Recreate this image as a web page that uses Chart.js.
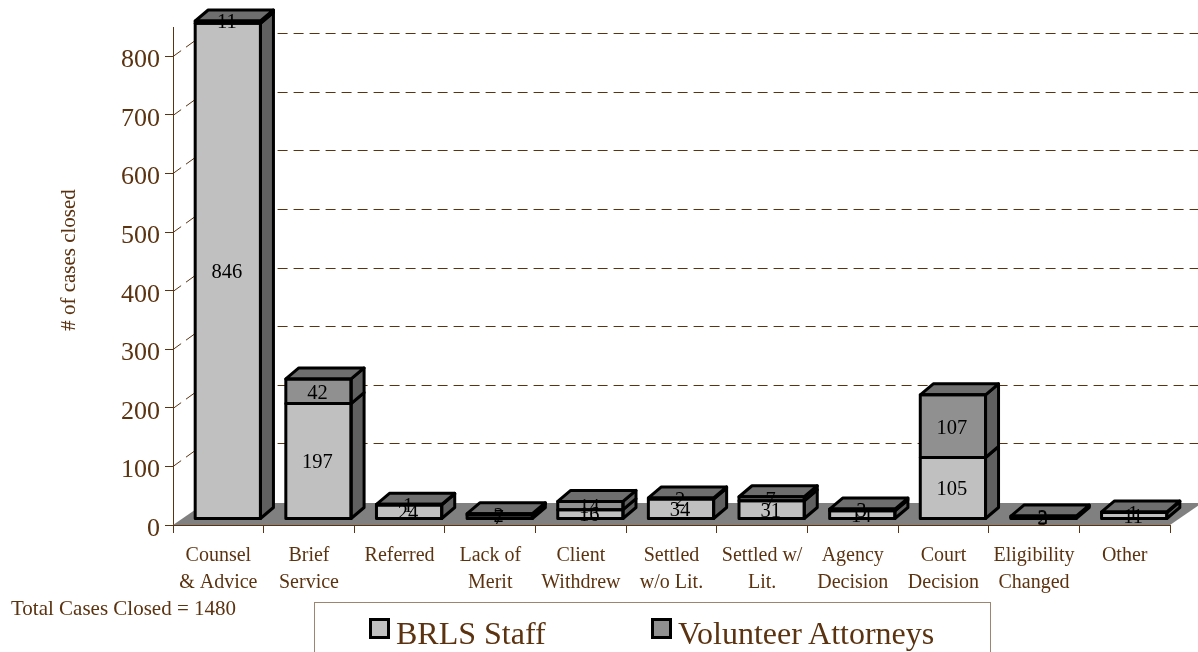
<!DOCTYPE html>
<html>
<head>
<meta charset="utf-8">
<title>Cases closed</title>
<script src="https://cdn.jsdelivr.net/npm/chart.js@4/dist/chart.umd.min.js"></script>
<style>
    html, body { margin: 0; padding: 0; background: #fff; overflow: hidden; }
    #wrap { position: relative; width: 1198px; height: 652px; font-family: "Liberation Serif", serif; color: #5c3310; }
    #total { position: absolute; left: 11px; top: 597px; font-size: 21px; line-height: 22px; white-space: nowrap; }
    #legend { position: absolute; left: 314px; top: 602px; width: 675px; height: 60px; border: 1px solid #9b8670; box-sizing: content-box; }
    .item { position: absolute; top: 11px; font-size: 32px; line-height: 38px; white-space: nowrap; }
    .swatch { display: inline-block; position: absolute; left: -27px; top: 4px; width: 15px; height: 15px; border: 3px solid #000; }
</style>
</head>
<body>
<div id="wrap">
    <canvas id="chart" width="1198" height="652"></canvas>
    <div id="total">Total Cases Closed = 1480</div>
    <div id="legend"></div>
</div>
<script>
const categories = [
    ["Counsel", "& Advice"], ["Brief", "Service"], "Referred", ["Lack of", "Merit"],
    ["Client", "Withdrew"], ["Settled", "w/o Lit."], ["Settled w/", "Lit."],
    ["Agency", "Decision"], ["Court", "Decision"], ["Eligibility", "Changed"], "Other"
];
const staff = [846, 197, 24, 7, 16, 34, 31, 14, 105, 3, 11];
const volunteers = [11, 42, 1, 2, 14, 2, 7, 3, 107, 2, 1];
const yTitle = "# of cases closed";
const brown = "#5c3310";

// bars stand a little in front of the back wall
const wallX = 32, wallY = 23, floorY = 22;
const barX = 9.5, barY = 6;
const depthX = 13, depthY = 11;

function sideAndTop(ctx, bar, top, withTop) {
    const half = bar.width / 2;
    const r = bar.x + half, l = bar.x - half;
    ctx.fillStyle = "#606060";
    ctx.beginPath();
    ctx.moveTo(r, top);
    ctx.lineTo(r + depthX, top - depthY);
    ctx.lineTo(r + depthX, bar.base - depthY);
    ctx.lineTo(r, bar.base);
    ctx.closePath();
    ctx.fill();
    ctx.stroke();
    if (withTop) {
        ctx.fillStyle = "#6e6e6e";
        ctx.beginPath();
        ctx.moveTo(l, top);
        ctx.lineTo(l + depthX, top - depthY);
        ctx.lineTo(r + depthX, top - depthY);
        ctx.lineTo(r, top);
        ctx.closePath();
        ctx.fill();
        ctx.stroke();
    }
    ctx.strokeRect(l, top, bar.width, bar.base - top);
}

const scenery = {
    id: "scenery",
    beforeDatasetsDraw(chart) {
        const { ctx, scales: { x, y } } = chart;
        const floor = y.getPixelForValue(0);
        ctx.save();
        ctx.fillStyle = "#808080";
        ctx.beginPath();
        ctx.moveTo(x.left, floor);
        ctx.lineTo(x.right, floor);
        ctx.lineTo(x.right + wallX, floor - floorY);
        ctx.lineTo(x.left + wallX, floor - floorY);
        ctx.closePath();
        ctx.fill();

        ctx.strokeStyle = brown;
        ctx.lineWidth = 1;
        ctx.setLineDash([10, 6]);
        y.ticks.forEach(t => {
            if (t.value === 0) return;
            const py = Math.round(y.getPixelForValue(t.value)) + 0.5;
            ctx.beginPath();
            ctx.moveTo(x.left, py);
            ctx.lineTo(x.left + wallX, py - wallY);
            ctx.lineTo(chart.width, py - wallY);
            ctx.stroke();
        });
        ctx.restore();

        ctx.save();
        ctx.translate(barX, -barY);
    },
    afterDatasetsDraw(chart) {
        const { ctx, chartArea } = chart;
        // still translated from beforeDatasetsDraw
        ctx.lineWidth = 3;
        ctx.lineJoin = "round";
        ctx.strokeStyle = "#000";
        const lower = chart.getDatasetMeta(0).data;
        const upper = chart.getDatasetMeta(1).data;
        lower.forEach((bar, i) => {
            sideAndTop(ctx, bar, Math.max(bar.y, chartArea.top), false);
            sideAndTop(ctx, upper[i], Math.max(upper[i].y, chartArea.top), true);
        });

        ctx.fillStyle = "#000";
        ctx.font = '20.5px "Liberation Serif"';
        ctx.textAlign = "center";
        ctx.textBaseline = "middle";
        [[lower, staff], [upper, volunteers]].forEach(([bars, vals]) => {
            bars.forEach((bar, i) => {
                ctx.fillText(vals[i], bar.x - 1, (bar.y + bar.base) / 2 + 2);
            });
        });
        ctx.restore();
    },
    afterDraw(chart) {
        const { ctx } = chart;
        ctx.save();
        ctx.translate(69, 260);
        ctx.rotate(-Math.PI / 2);
        ctx.fillStyle = brown;
        ctx.font = '21px "Liberation Serif"';
        ctx.textAlign = "center";
        ctx.textBaseline = "middle";
        ctx.fillText(yTitle, 0, 0);
        ctx.restore();
    }
};

const chart = new Chart(document.getElementById("chart"), {
    type: "bar",
    data: {
        labels: categories,
        datasets: [
            { label: "BRLS Staff", data: staff, backgroundColor: "#c0c0c0", borderWidth: 0 },
            { label: "Volunteer Attorneys", data: volunteers, backgroundColor: "#909090", borderWidth: 0 }
        ]
    },
    options: {
        responsive: false,
        animation: false,
        layout: { padding: { top: 27, right: 28 } },
        categoryPercentage: 0.72,
        barPercentage: 1,
        plugins: { legend: { display: false }, tooltip: { enabled: false } },
        scales: {
            x: {
                stacked: true,
                afterFit(scale) { scale.height = 127; },
                grid: { drawOnChartArea: false, color: brown, tickLength: 8 },
                border: { color: brown },
                ticks: {
                    maxRotation: 0, autoSkip: false, padding: 9, color: brown,
                    font: { family: "Liberation Serif", size: 20, lineHeight: 1.35 }
                }
            },
            y: {
                stacked: true,
                min: 0,
                max: 850,
                afterFit(scale) { scale.width = 173; },
                grid: { drawOnChartArea: false, color: brown, tickLength: 8 },
                border: { color: brown },
                ticks: {
                    stepSize: 100, includeBounds: false, padding: 5, color: brown,
                    // empty first line pushes the number down onto its tick
                    callback: v => ["", String(v)],
                    font: { family: "Liberation Serif", size: 26, lineHeight: 0.31 }
                }
            }
        }
    },
    plugins: [scenery]
});

// legend built from the datasets, positions set by hand to sit in the frame
const legendLeft = [81, 363];
chart.data.datasets.forEach((ds, i) => {
    const item = document.createElement("div");
    item.className = "item";
    item.style.left = legendLeft[i] + "px";
    const swatch = document.createElement("span");
    swatch.className = "swatch";
    swatch.style.background = ds.backgroundColor;
    item.appendChild(swatch);
    item.appendChild(document.createTextNode(ds.label));
    document.getElementById("legend").appendChild(item);
});
</script>
</body>
</html>
